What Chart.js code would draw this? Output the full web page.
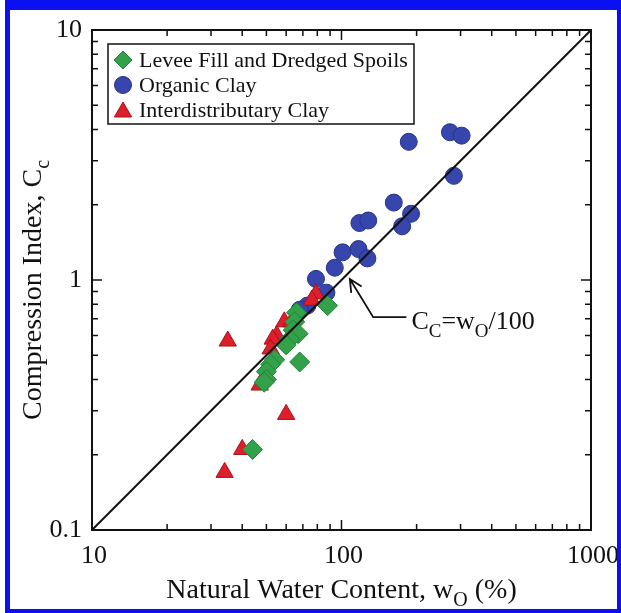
<!DOCTYPE html>
<html>
<head>
<meta charset="utf-8">
<script src="https://cdn.jsdelivr.net/npm/chart.js@4/dist/chart.umd.min.js"></script>
<style>
  html, body { margin: 0; padding: 0; background: #fff; }
  #wrap { position: relative; width: 621px; height: 613px; overflow: hidden; }
  #wrap canvas { position: absolute; left: 0; top: 0; }
  #frame {
    position: absolute; left: 5px; top: 0; right: 0; bottom: 0;
    box-sizing: border-box; border-style: solid; border-color: #0a10f0;
    border-width: 10px 4px 4px 5px; pointer-events: none;
  }
</style>
</head>
<body>
<div id="wrap">
  <canvas id="chart" width="621" height="613"></canvas>
  <div id="frame"></div>
</div>
<script>
// natural water content (%) and compression index
const leveeW  = [88, 66, 65, 64, 67, 62, 60, 68, 54, 52, 50, 50, 49, 44];
const leveeCc = [0.79, 0.74, 0.68, 0.63, 0.61, 0.58, 0.55, 0.47, 0.48, 0.46, 0.43, 0.40, 0.39, 0.21];

const organicW  = [186, 272, 303, 282, 162, 190, 175, 118, 128, 101, 117, 127, 94, 79, 87, 73, 68];
const organicCc = [3.57, 3.90, 3.78, 2.61, 2.04, 1.84, 1.64, 1.69, 1.73, 1.29, 1.33, 1.22, 1.12, 1.01, 0.89, 0.79, 0.76];

const interW  = [79, 76, 59, 63, 55, 53, 52, 35, 47, 60, 40, 34];
const interCc = [0.88, 0.83, 0.68, 0.68, 0.60, 0.58, 0.53, 0.57, 0.38, 0.29, 0.21, 0.17];

// Cc = wo/100 reference line
const lineW  = [10, 1000];
const lineCc = [0.1, 10];

const xTickLabels = [10, 100, 1000];
const yTickLabels = [0.1, 1, 10];
const minorSteps = [2, 3, 4, 5, 6, 7, 8, 9];

// arrow for the Cc=wo/100 note, in data units
const noteTip = [108, 1.01];
const noteElbow = [134, 0.71];
const noteEnd = [182, 0.71];

const serif = '"Liberation Serif", "DejaVu Serif", serif';
const GREEN = '#33a04a', BLUE = '#3646ad', RED = '#dc1f2a';

const pts = (xs, ys) => xs.map((x, i) => ({ x: x, y: ys[i] }));

// draw a run of text pieces, some of them subscripts
function drawParts(ctx, parts, x, y, size, dry) {
  let cx = x;
  parts.forEach(p => {
    const sub = p[1];
    ctx.font = (sub ? Math.round(size * 0.72) : size) + 'px ' + serif;
    if (!dry) ctx.fillText(p[0], cx, sub ? y + size * 0.3 : y);
    cx += ctx.measureText(p[0]).width;
  });
  return cx - x;
}

function marker(ctx, style, x, y) {
  ctx.save();
  ctx.fillStyle = style.color;
  ctx.strokeStyle = style.border;
  ctx.lineWidth = 1;
  if (Chart.helpers && Chart.helpers.drawPoint) {
    Chart.helpers.drawPoint(ctx, { pointStyle: style.shape, radius: style.r, rotation: 0, borderWidth: 1 }, x, y);
  }
  ctx.restore();
}

const decor = {
  id: 'decor',
  afterDraw(chart) {
    const ctx = chart.ctx;
    const xs = chart.scales.x, ys = chart.scales.y;
    const { left, right, top, bottom } = chart.chartArea;
    ctx.save();
    ctx.strokeStyle = '#111';
    ctx.fillStyle = '#111';

    // ticks on all four sides, pointing in
    ctx.lineWidth = 1.5;
    ctx.beginPath();
    [10, 100].forEach(d => {
      [1].concat(minorSteps).forEach(k => {
        const v = d * k;
        if (v <= 10 && k === 1) return;
        const px = xs.getPixelForValue(v);
        const len = k === 1 ? 10 : 6;
        ctx.moveTo(px, bottom); ctx.lineTo(px, bottom - len);
        ctx.moveTo(px, top); ctx.lineTo(px, top + len);
      });
    });
    [0.1, 1].forEach(d => {
      [1].concat(minorSteps).forEach(k => {
        const v = d * k;
        if (v <= 0.1 && k === 1) return;
        const py = ys.getPixelForValue(v);
        const len = k === 1 ? 10 : 6;
        ctx.moveTo(left, py); ctx.lineTo(left + len, py);
        ctx.moveTo(right, py); ctx.lineTo(right - len, py);
      });
    });
    ctx.stroke();

    ctx.lineWidth = 2;
    ctx.strokeRect(left, top, right - left, bottom - top);

    // tick labels
    ctx.font = '26px ' + serif;
    ctx.textBaseline = 'middle';
    ctx.textAlign = 'center';
    xTickLabels.forEach(v => ctx.fillText(String(v), xs.getPixelForValue(v) + 2, bottom + 26));
    ctx.textAlign = 'right';
    yTickLabels.forEach(v => ctx.fillText(String(v), left - 10, ys.getPixelForValue(v)));

    // axis titles
    ctx.textAlign = 'left';
    ctx.textBaseline = 'alphabetic';
    const xTitle = [['Natural Water Content, w', false], ['O', true], [' (%)', false]];
    const xw = drawParts(ctx, xTitle, 0, 0, 28, true);
    drawParts(ctx, xTitle, (left + right) / 2 - xw / 2, 598, 28);

    const yTitle = [['Compression Index, C', false], ['c', true]];
    const yw = drawParts(ctx, yTitle, 0, 0, 28, true);
    ctx.save();
    ctx.translate(41, (top + bottom) / 2 + 10);
    ctx.rotate(-Math.PI / 2);
    drawParts(ctx, yTitle, -yw / 2, 0, 28);
    ctx.restore();

    // note with arrow
    const tx = xs.getPixelForValue(noteTip[0]), ty = ys.getPixelForValue(noteTip[1]);
    const ex = xs.getPixelForValue(noteElbow[0]), ey = ys.getPixelForValue(noteElbow[1]);
    const fx = xs.getPixelForValue(noteEnd[0]);
    ctx.lineWidth = 1.8;
    ctx.beginPath();
    ctx.moveTo(fx, ey); ctx.lineTo(ex, ey); ctx.lineTo(tx, ty);
    const ang = Math.atan2(ty - ey, tx - ex);
    const ah = 14;
    ctx.moveTo(tx - ah * Math.cos(ang - 0.45), ty - ah * Math.sin(ang - 0.45));
    ctx.lineTo(tx, ty);
    ctx.lineTo(tx - ah * Math.cos(ang + 0.45), ty - ah * Math.sin(ang + 0.45));
    ctx.stroke();
    drawParts(ctx, [['C', false], ['C', true], ['=w', false], ['O', true], ['/100', false]], fx + 5, ey + 12, 26);

    // legend box
    const lx = 108, ly = 44, lw = 306, lh = 80;
    ctx.fillStyle = '#fff';
    ctx.fillRect(lx, ly, lw, lh);
    ctx.lineWidth = 1.5;
    ctx.strokeRect(lx, ly, lw, lh);
    const items = [
      { text: 'Levee Fill and Dredged Spoils', shape: 'rectRot', color: GREEN, border: '#27823b', r: 9 },
      { text: 'Organic Clay', shape: 'circle', color: BLUE, border: '#27338a', r: 8.5 },
      { text: 'Interdistributary Clay', shape: 'triangle', color: RED, border: '#a8121b', r: 10 }
    ];
    ctx.textBaseline = 'middle';
    items.forEach((it, i) => {
      const y = ly + 16 + i * 25;
      marker(ctx, it, lx + 15, it.shape === 'triangle' ? y + 2 : y);
      ctx.fillStyle = '#111';
      ctx.font = '22px ' + serif;
      ctx.fillText(it.text, lx + 31, y + 1);
    });
    ctx.restore();
  }
};

new Chart(document.getElementById('chart'), {
  type: 'scatter',
  data: {
    datasets: [
      {
        label: 'Cc = wo/100',
        data: pts(lineW, lineCc),
        showLine: true,
        borderColor: '#111',
        borderWidth: 2,
        pointRadius: 0,
        fill: false
      },
      {
        label: 'Levee Fill and Dredged Spoils',
        data: pts(leveeW, leveeCc),
        pointStyle: 'rectRot',
        pointRadius: 10,
        backgroundColor: GREEN,
        borderColor: '#27823b',
        borderWidth: 1
      },
      {
        label: 'Interdistributary Clay',
        data: pts(interW, interCc),
        pointStyle: 'triangle',
        pointRadius: 10,
        backgroundColor: RED,
        borderColor: '#a8121b',
        borderWidth: 1
      },
      {
        label: 'Organic Clay',
        data: pts(organicW, organicCc),
        pointStyle: 'circle',
        pointRadius: 8.5,
        backgroundColor: BLUE,
        borderColor: '#27338a',
        borderWidth: 1
      }
    ]
  },
  options: {
    responsive: false,
    animation: false,
    layout: { padding: { left: 92, top: 30, right: 30, bottom: 83 } },
    scales: {
      x: { type: 'logarithmic', min: 10, max: 1000, display: false },
      y: { type: 'logarithmic', min: 0.1, max: 10, display: false }
    },
    plugins: {
      legend: { display: false },
      tooltip: { enabled: false }
    }
  },
  plugins: [decor]
});
</script>
</body>
</html>
